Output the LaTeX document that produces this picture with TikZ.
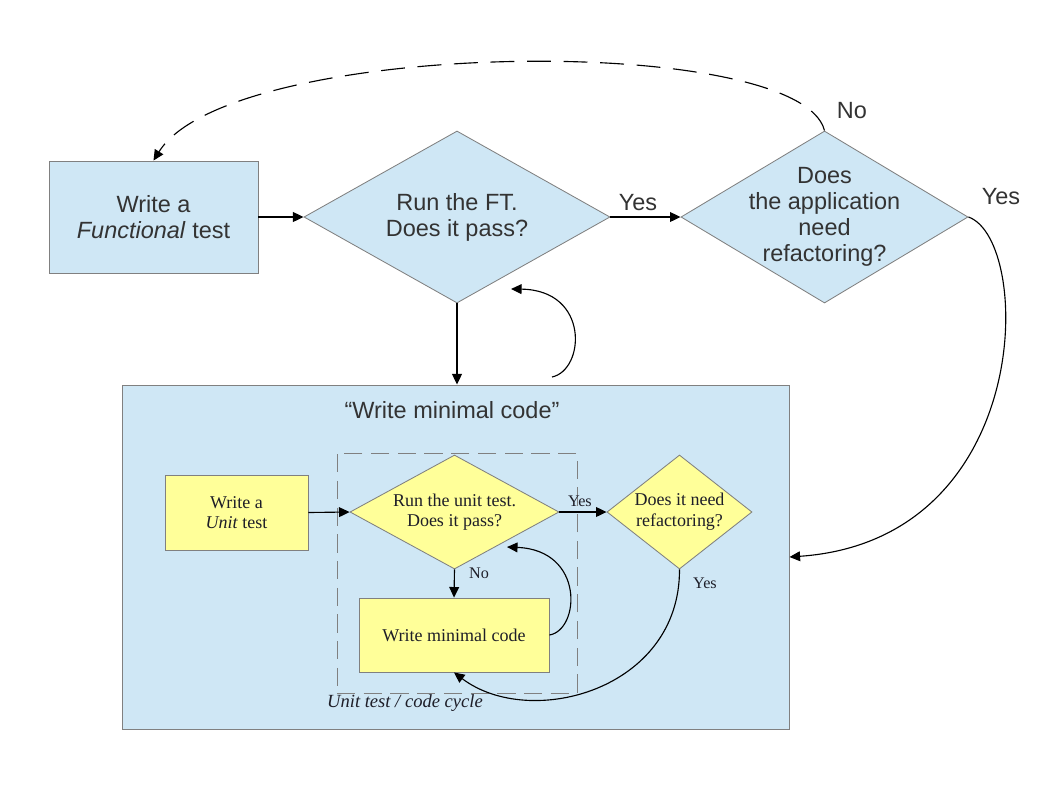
\documentclass[tikz,border=0pt]{standalone}
\usepackage{fontspec}
\setmainfont{Liberation Serif}
\setsansfont{Liberation Sans}
\usetikzlibrary{shapes.geometric,arrows.meta}
\definecolor{ftblue}{RGB}{207,231,245}
\definecolor{utyellow}{RGB}{255,255,153}
\definecolor{edgegray}{RGB}{128,128,128}
\definecolor{txtgray}{RGB}{51,51,51}
\definecolor{txtdark}{RGB}{30,30,40}

\begin{document}
\begin{tikzpicture}[x=0.025cm, y=-0.025cm,
            >={Triangle[length=7.5pt,width=7pt]},
            big/.style={font=\sffamily\fontsize{16.7}{18.5}\selectfont, text=txtgray},
            small/.style={font=\fontsize{12.8}{14.7}\selectfont, text=txtdark},
            tiny/.style={font=\fontsize{11.5}{13}\selectfont, text=txtdark},
            ftbox/.style={draw=edgegray, line width=0.6pt, fill=ftblue, big, align=center, inner sep=0pt},
            ftdia/.style={diamond, draw=edgegray, line width=0.6pt, fill=ftblue, big, align=center, inner sep=-20pt, minimum height=4.3cm},
            utbox/.style={draw=edgegray, line width=0.6pt, fill=utyellow, small, align=center, inner sep=0pt},
            utdia/.style={diamond, draw=edgegray, line width=0.6pt, fill=utyellow, small, align=center, inner sep=-15pt, minimum height=2.85cm},
            flow/.style={->, line width=0.8pt}]
            \useasboundingbox (0,0) rectangle (1047,785);

            \node[ftbox, minimum width=5.225cm, minimum height=2.8cm] (fttest) at (153.5,217) {Write a\\\textit{Functional} test};
            \node[ftdia, minimum width=7.65cm] (ftrun) at (457,217) {Run the FT.\\Does it pass?};
            \node[ftdia, minimum width=7.175cm] (ftrefac) at (824.5,217) {Does\\the application\\need\\refactoring?};

            \node[draw=edgegray, line width=0.6pt, fill=ftblue, minimum width=16.65cm, minimum height=8.6cm, inner sep=0pt] (codebox) at (456,557) {};
            \node[big] (codetitle) at (452,410) {“Write minimal code”};
            \node[draw=edgegray, line width=0.6pt, dash pattern=on 13pt off 6pt, minimum width=6cm, minimum height=6cm, inner sep=0pt] (cycle) at (457,573) {};
            \node[small, font=\fontsize{13.2}{15}\selectfont\itshape] (cyclelabel) at (405,703) {Unit test / code cycle};

            \node[utbox, minimum width=3.575cm, minimum height=1.875cm] (utwrite) at (236.5,512.5) {Write a\\\textit{Unit} test};
            \node[utdia, minimum width=5.225cm] (utrun) at (454.5,512) {Run the unit test.\\Does it pass?};
            \node[utdia, minimum width=3.625cm] (utrefac) at (679.5,512) {Does it need\\refactoring?};
            \node[utbox, minimum width=4.75cm, minimum height=1.85cm] (mincode) at (454,635) {Write minimal code};

            \node[big] (yesft) at (638,203) {Yes};
            \node[big] (noref) at (852,111) {No};
            \node[big] (yesref) at (1001,197) {Yes};
            \node[tiny] (yesut) at (580,501) {Yes};
            \node[tiny] (nout) at (479,573) {No};
            \node[tiny] (yesrf) at (705,583) {Yes};

            \coordinate (ftloopstart) at (552,377);
            \coordinate (ftloopend) at (511,289);
            \coordinate (utloopend) at (507,547);

            \draw[flow] (fttest.east) -- (ftrun.west);
            \draw[flow] (ftrun.east) -- (ftrefac.west);
            \draw[flow] (ftrun.south) -- (ftrun.south |- codebox.north);
            \draw[flow] (ftloopstart) .. controls (585,370) and (590,290) .. (ftloopend);
            \draw[flow, dash pattern=on 17pt off 9pt] (ftrefac.north) .. controls (800,32) and (230,38) .. (fttest.north);
            \draw[flow] (ftrefac.east) .. controls (1033,240) and (1035,540) .. (codebox.east);

            \draw[flow] (utwrite.east) -- (utrun.west);
            \draw[flow] (utrun.east) -- (utrefac.west);
            \draw[flow] (utrun.south) -- (mincode.north);
            \draw[flow] (mincode.east) .. controls (580,630) and (585,550) .. (utloopend);
            \draw[flow] (utrefac.south) .. controls (680,690) and (530,730) .. (mincode.south);
        \end{tikzpicture}
\end{document}
